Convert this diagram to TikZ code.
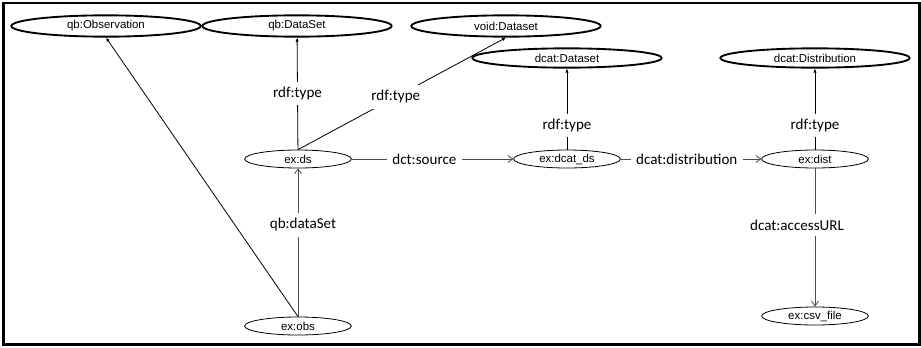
\documentclass[tikz,border=0pt]{standalone}
\usepackage{fontspec}
\setmainfont{Liberation Sans}
\newfontfamily\lblfont{Carlito}
\usetikzlibrary{arrows.meta,shapes.geometric}

\begin{document}
\begin{tikzpicture}[x=0.75pt, y=-0.75pt, font=\fontsize{8.6}{10}\selectfont, classnode/.style={ellipse, draw, line width=1.4pt, minimum width=142pt, minimum height=16pt, inner sep=0pt}, instnode/.style={ellipse, draw, line width=0.6pt, minimum width=80pt, minimum height=13.5pt, inner sep=0pt}, lbl/.style={fill=white, font=\lblfont\fontsize{11.3}{13}\selectfont, inner xsep=4pt, inner ysep=4pt}, typearrow/.style={-{Latex[length=3pt,width=2.6pt]}, line width=0.6pt}, relarrow/.style={-{Straight Barb[length=3.5pt,width=5.2pt]}, line width=0.6pt, draw=black!70}]
  {
  \useasboundingbox (0,0) rectangle (921,347);
  \draw[line width=2.2pt] (3.5,3) rectangle (919.5,344.5);

  \node[classnode] (obsclass) at (106,26) {qb:Observation};
  \node[classnode, right of=obsclass, node distance=143.25pt] (dsclass) {qb:DataSet};
  \node[classnode, right of=dsclass, node distance=156.75pt] (voidclass) {void:Dataset};
  \node[classnode, minimum height=14.5pt] (dcatclass) at (567,58) {dcat:Dataset};
  \node[classnode, minimum height=14.5pt, right of=dcatclass, node distance=186pt] (distclass) {dcat:Distribution};

  \node[instnode] (ds) at (298,159) {ex:ds};
  \node[instnode, right of=ds, node distance=201.75pt] (dcatds) {ex:dcat\_ds};
  \node[instnode, right of=dcatds, node distance=186pt] (dist) {ex:dist};
  \node[instnode] (obs) at (298,326) {ex:obs};
  \node[instnode] (csv) at (815,316) {ex:csv\_file};

  \draw[typearrow] (obs.north) -- (obsclass.south);
  \draw[relarrow] (obs) -- node[lbl, pos=0.62, xshift=3.75pt] {qb:dataSet} (ds);
  \draw[typearrow] (ds) -- node[lbl] {rdf:type} (dsclass);
  \draw[typearrow] (ds.north) -- node[lbl, pos=0.47] {rdf:type} (voidclass.south);
  \draw[relarrow] (ds) -- node[lbl, pos=0.45] {dct:source} (dcatds);
  \draw[typearrow] (dcatds) -- node[lbl, pos=0.3] {rdf:type} (dcatclass);
  \draw[relarrow] (dcatds) -- node[lbl, pos=0.47] {dcat:distribution} (dist);
  \draw[typearrow] (dist) -- node[lbl, pos=0.3] {rdf:type} (distclass);
  \draw[relarrow] (dist) -- node[lbl, pos=0.41, xshift=-13.5pt] {dcat:accessURL} (csv);
  }
\end{tikzpicture}
\end{document}
